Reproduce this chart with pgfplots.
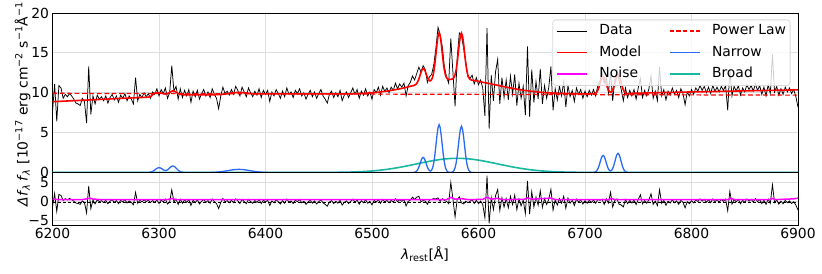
\documentclass[border=0pt]{standalone}
\usepackage{fontspec}
\setmainfont{DejaVu Sans}
\usepackage{pgfplots}
\pgfplotsset{compat=1.18}
\usepackage{pgfplotstable}
\definecolor{narrowc}{RGB}{40,105,245}
\definecolor{broadc}{RGB}{25,185,160}
\definecolor{gridc}{RGB}{222,222,222}
\definecolor{noisec}{RGB}{255,0,255}
\newcommand{\fsz}{\fontsize{13.9bp}{16bp}\selectfont}

\pgfplotstableread{
x f m
6200 7.6 8.88
6202 11.1 8.89
6204 6.4 8.91
6206 10.9 8.92
6208 10.6 8.93
6210 9.3 8.94
6212 9.8 8.96
6214 9.5 8.97
6216 9.9 8.98
6218 9.6 9.00
6220 9.2 9.01
6222 8.7 9.02
6224 8.6 9.03
6226 8.4 9.05
6228 9.3 9.06
6230 8.9 9.07
6232 6.2 9.08
6234 13.3 9.10
6236 7.3 9.11
6238 9.6 9.12
6240 8.6 9.13
6242 9.7 9.15
6244 9.2 9.16
6246 9.5 9.17
6248 9.0 9.19
6250 9.6 9.20
6252 8.7 9.21
6254 9.4 9.22
6256 9.8 9.24
6258 9.1 9.25
6260 9.6 9.26
6262 8.8 9.27
6264 9.7 9.29
6266 9.3 9.30
6268 9.9 9.31
6270 9.0 9.32
6272 9.6 9.34
6274 9.2 9.35
6276 8.6 9.36
6278 11.9 9.38
6280 9.0 9.39
6282 9.8 9.40
6284 9.4 9.41
6286 10.0 9.43
6288 9.5 9.44
6290 9.9 9.45
6292 9.3 9.50
6294 10.1 9.75
6296 9.8 9.95
6298 10.5 10.00
6300 9.6 10.02
6302 10.4 9.96
6304 9.9 9.88
6306 10.6 9.84
6308 9.3 9.88
6310 10.0 10.04
6312 13.4 10.20
6314 10.2 10.22
6316 10.8 10.08
6318 9.2 9.90
6320 10.5 9.80
6322 9.4 9.76
6324 10.3 9.75
6326 9.6 9.75
6328 10.4 9.75
6330 8.8 9.75
6332 10.2 9.75
6334 9.5 9.75
6336 10.3 9.75
6338 9.2 9.75
6340 9.9 9.75
6342 10.4 9.75
6344 9.6 9.75
6346 10.1 9.75
6348 9.4 9.75
6350 10.5 9.75
6352 9.8 9.75
6354 9.3 9.76
6356 8.0 9.77
6358 9.6 9.78
6360 10.7 9.80
6362 9.9 9.84
6364 10.2 9.88
6366 9.7 9.94
6368 10.4 9.98
6370 9.8 10.00
6372 10.8 10.02
6374 10.3 10.04
6376 9.6 10.03
6378 10.7 10.02
6380 10.1 10.00
6382 9.5 9.97
6384 10.6 9.93
6386 10.0 9.90
6388 9.5 9.88
6390 10.2 9.86
6392 9.7 9.85
6394 10.5 9.85
6396 9.4 9.85
6398 10.3 9.85
6400 9.8 9.85
6402 10.3 9.85
6404 8.9 9.85
6406 10.1 9.85
6408 9.6 9.85
6410 10.4 9.85
6412 9.9 9.85
6414 9.3 9.85
6416 10.2 9.85
6418 9.5 9.85
6420 10.6 9.85
6422 9.8 9.85
6424 10.1 9.85
6426 9.4 9.85
6428 10.3 9.85
6430 9.9 9.85
6432 10.5 9.85
6434 9.6 9.85
6436 10.0 9.85
6438 9.2 9.85
6440 9.8 9.85
6442 10.3 9.85
6444 9.5 9.85
6446 10.1 9.85
6448 9.3 9.85
6450 9.9 9.85
6452 10.4 9.85
6454 9.6 9.85
6456 9.2 9.85
6458 8.7 9.85
6460 9.8 9.85
6462 10.2 9.85
6464 9.4 9.85
6466 10.0 9.85
6468 9.5 9.85
6470 10.3 9.85
6472 9.0 9.85
6474 9.7 9.85
6476 10.1 9.85
6478 9.4 9.85
6480 10.0 9.86
6482 10.6 9.87
6484 9.8 9.88
6486 10.4 9.89
6488 9.3 9.90
6490 10.2 9.91
6492 9.7 9.93
6494 10.5 9.95
6496 9.6 9.96
6498 10.1 9.98
6500 9.2 9.99
6502 10.4 10.02
6504 10.0 10.05
6506 10.7 10.08
6508 9.7 10.11
6510 10.8 10.14
6512 10.2 10.18
6514 10.6 10.21
6516 10.0 10.25
6518 10.7 10.29
6520 10.3 10.34
6522 11.2 10.39
6524 10.5 10.44
6526 11.1 10.49
6528 10.7 10.55
6530 11.2 10.61
6532 9.6 10.68
6534 10.9 10.74
6536 11.3 10.81
6538 12.1 10.87
6540 11.6 10.95
6542 12.4 11.17
6544 13.2 11.72
6546 12.6 12.56
6548 13.4 13.05
6550 12.9 12.67
6552 11.3 11.94
6554 12.0 11.50
6556 12.3 11.65
6558 13.5 12.63
6560 15.6 14.83
6562 18.2 17.12
6564 17.3 17.16
6566 15.8 14.94
6568 13.2 12.81
6570 12.0 11.88
6572 11.2 11.67
6574 16.8 11.68
6576 12.5 11.77
6578 8.3 12.27
6580 14.4 13.77
6582 17.5 16.18
6584 17.2 17.47
6586 15.6 16.16
6588 13.9 13.73
6590 12.0 12.21
6592 11.8 11.69
6594 12.2 11.57
6596 11.1 11.53
6598 11.9 11.49
6600 11.0 11.45
6602 11.6 11.38
6604 10.6 11.31
6606 7.1 11.26
6608 18.1 11.21
6610 5.5 11.15
6612 12.2 11.10
6614 9.0 11.05
6616 12.6 10.99
6618 14.2 10.93
6620 8.6 10.87
6622 11.9 10.82
6624 9.4 10.76
6626 11.6 10.70
6628 9.1 10.65
6630 12.1 10.60
6632 9.8 10.55
6634 12.3 10.50
6636 8.4 10.45
6638 11.2 10.40
6640 9.3 10.36
6642 10.8 10.32
6644 7.2 10.28
6646 15.8 10.25
6648 7.0 10.21
6650 12.9 10.18
6652 8.8 10.15
6654 11.4 10.12
6656 9.2 10.09
6658 13.0 10.06
6660 8.6 10.04
6662 10.9 10.02
6664 9.3 10.00
6666 10.7 9.98
6668 13.3 9.97
6670 7.8 9.96
6672 10.5 9.95
6674 9.1 9.93
6676 10.8 9.92
6678 9.6 9.92
6680 11.4 9.91
6682 8.2 9.90
6684 10.9 9.89
6686 9.5 9.88
6688 10.3 9.88
6690 8.9 9.87
6692 10.6 9.87
6694 9.8 9.87
6696 10.4 9.87
6698 9.3 9.86
6700 10.2 9.86
6702 9.5 9.87
6704 10.3 9.87
6706 9.7 9.88
6708 10.4 9.89
6710 9.6 9.97
6712 10.9 10.31
6714 11.5 11.08
6716 12.6 11.89
6718 11.2 11.89
6720 11.9 11.08
6722 10.0 10.31
6724 12.6 10.07
6726 9.0 10.37
6728 11.6 11.22
6730 12.9 12.12
6732 11.5 12.12
6734 10.4 11.22
6736 9.0 10.36
6738 10.6 9.98
6740 9.4 9.89
6742 10.3 9.89
6744 9.6 9.92
6746 10.4 9.93
6748 9.2 9.93
6750 10.6 9.94
6752 11.8 9.94
6754 9.4 9.95
6756 10.3 9.95
6758 9.6 9.96
6760 10.5 9.96
6762 12.1 9.97
6764 9.3 9.97
6766 10.2 9.98
6768 9.0 9.99
6770 13.2 9.99
6772 9.6 10.00
6774 10.4 10.00
6776 9.1 10.01
6778 10.2 10.01
6780 9.7 10.02
6782 10.6 10.02
6784 9.8 10.03
6786 10.3 10.04
6788 9.4 10.04
6790 10.5 10.05
6792 9.9 10.05
6794 8.5 10.06
6796 10.1 10.06
6798 9.6 10.07
6800 10.4 10.07
6802 9.8 10.08
6804 10.6 10.08
6806 10.2 10.09
6808 10.9 10.10
6810 10.3 10.10
6812 10.8 10.11
6814 10.0 10.11
6816 10.7 10.12
6818 9.9 10.12
6820 10.9 10.13
6822 10.2 10.13
6824 10.7 10.14
6826 10.1 10.15
6828 10.8 10.15
6830 10.3 10.16
6832 10.9 10.16
6834 7.8 10.17
6836 12.9 10.17
6838 9.6 10.18
6840 10.8 10.18
6842 10.2 10.19
6844 10.9 10.20
6846 9.7 10.20
6848 10.6 10.21
6850 10.1 10.21
6852 11.0 10.22
6854 10.4 10.22
6856 10.9 10.23
6858 10.2 10.23
6860 11.1 10.24
6862 10.3 10.25
6864 10.9 10.25
6866 9.8 10.26
6868 10.7 10.26
6870 9.6 10.27
6872 11.0 10.27
6874 9.9 10.28
6876 14.8 10.28
6878 10.1 10.29
6880 10.8 10.29
6882 9.7 10.30
6884 10.5 10.31
6886 9.8 10.31
6888 10.7 10.32
6890 10.1 10.32
6892 10.6 10.33
6894 9.9 10.33
6896 10.4 10.34
6898 9.5 10.34
6900 8.2 10.35
}\datatab

\pgfplotstableread{
x m
6200 8.88
6290 9.45
6292 9.50
6294 9.75
6296 9.95
6298 10.00
6300 10.02
6302 9.96
6304 9.88
6306 9.84
6308 9.88
6310 10.04
6312 10.20
6313 10.24
6314 10.22
6316 10.08
6318 9.90
6320 9.80
6322 9.76
6324 9.75
6352 9.75
6356 9.77
6360 9.80
6364 9.88
6368 9.98
6372 10.02
6375 10.04
6378 10.02
6382 9.97
6386 9.90
6390 9.86
6394 9.85
6478 9.85
6484 9.88
6490 9.91
6496 9.96
6500 9.99
6505 10.06
6510 10.14
6515 10.23
6520 10.34
6525 10.46
6530 10.61
6533 10.71
6536 10.81
6537 10.84
6538 10.87
6539 10.90
6540 10.95
6541 11.03
6542 11.17
6543 11.40
6544 11.72
6545 12.14
6546 12.56
6547 12.90
6548 13.05
6549 12.96
6550 12.67
6551 12.30
6552 11.94
6553 11.67
6554 11.50
6555 11.51
6556 11.65
6557 11.99
6558 12.63
6559 13.59
6560 14.83
6561 16.12
6562 17.12
6563 17.51
6564 17.16
6565 16.20
6566 14.94
6567 13.74
6568 12.81
6569 12.22
6570 11.88
6571 11.73
6572 11.67
6573 11.66
6574 11.68
6575 11.70
6576 11.77
6577 11.94
6578 12.27
6579 12.86
6580 13.77
6581 14.95
6582 16.18
6583 17.12
6584 17.47
6585 17.11
6586 16.16
6587 14.92
6588 13.73
6589 12.81
6590 12.21
6591 11.87
6592 11.69
6593 11.61
6594 11.57
6595 11.55
6596 11.53
6598 11.49
6600 11.45
6604 11.31
6608 11.21
6612 11.10
6616 10.99
6620 10.87
6624 10.76
6628 10.65
6632 10.55
6636 10.45
6640 10.36
6644 10.28
6648 10.21
6652 10.15
6656 10.09
6660 10.04
6664 10.00
6668 9.97
6672 9.95
6676 9.92
6680 9.91
6684 9.89
6688 9.88
6692 9.87
6700 9.86
6704 9.87
6706 9.88
6708 9.89
6709 9.91
6710 9.97
6711 10.09
6712 10.31
6713 10.65
6714 11.08
6715 11.54
6716 11.89
6717 12.02
6718 11.89
6719 11.54
6720 11.08
6721 10.65
6722 10.31
6723 10.13
6724 10.07
6725 10.15
6726 10.37
6727 10.73
6728 11.22
6729 11.73
6730 12.12
6731 12.27
6732 12.12
6733 11.73
6734 11.22
6735 10.73
6736 10.36
6737 10.11
6738 9.98
6739 9.91
6740 9.89
6742 9.89
6744 9.92
6760 9.98
6780 10.04
6800 10.10
6820 10.15
6840 10.21
6860 10.26
6880 10.31
6900 10.36
}\mtab

\pgfplotstableread{
x n
6200 0
6288 0
6290 0.01
6292 0.044
6294 0.138
6295 0.216
6296 0.312
6297 0.416
6298 0.509
6299 0.576
6300 0.60
6301 0.58
6302 0.515
6303 0.43
6304 0.34
6305 0.276
6306 0.249
6307 0.27
6308 0.34
6309 0.45
6310 0.58
6311 0.696
6312 0.787
6313 0.82
6314 0.787
6315 0.696
6316 0.568
6317 0.426
6318 0.295
6319 0.189
6320 0.111
6322 0.030
6324 0.006
6326 0
6340 0
6345 0.004
6350 0.018
6355 0.054
6360 0.130
6365 0.243
6370 0.353
6375 0.40
6380 0.353
6385 0.243
6390 0.130
6395 0.054
6400 0.018
6405 0.004
6410 0
6538 0
6540 0.03
6541 0.08
6542 0.19
6543 0.39
6544 0.68
6545 1.07
6546 1.47
6547 1.78
6548 1.90
6549 1.78
6550 1.47
6551 1.07
6552 0.68
6553 0.39
6554 0.22
6555 0.18
6556 0.29
6557 0.61
6558 1.22
6559 2.16
6560 3.38
6561 4.65
6562 5.63
6563 6.00
6564 5.63
6565 4.65
6566 3.38
6567 2.16
6568 1.22
6569 0.61
6570 0.26
6571 0.10
6572 0.03
6573 0.01
6574 0.02
6575 0.03
6576 0.10
6577 0.26
6578 0.59
6579 1.18
6580 2.09
6581 3.27
6582 4.50
6583 5.44
6584 5.80
6585 5.44
6586 4.50
6587 3.27
6588 2.09
6589 1.18
6590 0.59
6591 0.26
6592 0.10
6593 0.03
6594 0.01
6596 0
6706 0
6708 0.012
6709 0.037
6710 0.095
6711 0.217
6712 0.436
6713 0.774
6714 1.21
6715 1.67
6716 2.02
6717 2.15
6718 2.02
6719 1.67
6720 1.21
6721 0.774
6722 0.436
6723 0.258
6724 0.20
6725 0.28
6726 0.50
6727 0.864
6728 1.35
6729 1.86
6730 2.25
6731 2.40
6732 2.25
6733 1.86
6734 1.35
6735 0.864
6736 0.487
6737 0.242
6738 0.106
6739 0.041
6740 0.014
6741 0
6900 0
}\ntab

\pgfplotstableread{
x b
6200 0
6440 0.002
6450 0.005
6460 0.012
6470 0.027
6480 0.056
6485 0.078
6490 0.108
6495 0.146
6500 0.194
6505 0.254
6510 0.326
6515 0.412
6520 0.511
6525 0.625
6530 0.749
6535 0.883
6540 1.023
6545 1.165
6550 1.303
6555 1.434
6560 1.550
6565 1.647
6570 1.719
6575 1.765
6580 1.780
6585 1.765
6590 1.719
6595 1.647
6600 1.550
6605 1.434
6610 1.303
6615 1.165
6620 1.023
6625 0.883
6630 0.749
6635 0.625
6640 0.511
6645 0.412
6650 0.326
6655 0.254
6660 0.194
6665 0.146
6670 0.108
6675 0.078
6680 0.056
6690 0.027
6700 0.012
6710 0.005
6720 0.002
6900 0
}\btab

\pgfplotstableread{
x s
6200 0.65
6210 0.60
6228 0.60
6232 0.80
6235 1.00
6238 0.75
6245 0.60
6308 0.60
6312 0.90
6316 0.60
6570 0.60
6574 1.20
6578 0.70
6584 0.85
6590 0.60
6604 0.65
6608 1.25
6612 0.70
6618 0.95
6622 0.60
6643 0.65
6646 1.10
6650 0.70
6668 1.00
6672 0.60
6722 0.60
6725 0.90
6728 0.60
6834 0.60
6837 0.95
6840 0.60
6873 0.60
6876 0.90
6879 0.60
6896 0.80
6900 1.00
}\stab

\pgfplotsset{
  layers/mylayers/.define layer set={axis background,axis grid,axis ticks,axis tick labels,main,axis lines,axis descriptions,axis foreground}{},
}

\begin{document}
\begin{tikzpicture}
\pgfplotsset{
  every axis/.append style={
    set layers=mylayers,
    scale only axis,
    xmin=6200, xmax=6900,
    axis line style={line width=0.9bp, black},
    grid=major,
    grid style={gridc, line width=0.9bp},
    major tick length=0pt,
    tick label style={font=\fsz},
    xtick={6200,6300,6400,6500,6600,6700,6800,6900},
  },
}
\begin{axis}[
  at={(52.5bp,101.5bp)}, anchor=south west,
  width=745.5bp, height=159.5bp,
  ymin=0, ymax=20,
  ytick={0,5,10,15,20}, yticklabels={0,5,10,15,20},
  xticklabels={},
  legend columns=2,
  legend cell align=left,
  legend image code/.code={\draw[#1] (0bp,0bp) -- (30bp,0bp);},
  legend style={
    at={(1,1)}, anchor=north east, xshift=-7.5bp, yshift=-6.5bp,
    draw=black!15, line width=0.8bp, rounded corners=3bp,
    fill=white, fill opacity=0.8, text opacity=1, draw opacity=1,
    font=\fsz, inner xsep=4bp, inner ysep=4.5bp, row sep=8bp,
    nodes={inner sep=0bp, text height=10.5bp, text depth=3bp},
    /tikz/every odd column/.append style={column sep=11.5bp},
    /tikz/every even column/.append style={column sep=28bp},
  },
]
\addplot[black, line width=0.75bp, forget plot] table[x=x,y=f]{\datatab};
\addplot[broadc, line width=1.6bp, forget plot] table[x=x,y=b]{\btab};
\addplot[narrowc, line width=1.3bp, forget plot] table[x=x,y=n]{\ntab};
\addplot[red, dash pattern=on 4.7bp off 2.7bp, line width=1.2bp, forget plot] coordinates {(6200,9.93) (6550,9.815) (6900,9.70)};
\addplot[red, line width=1.6bp, forget plot] table[x=x,y=m]{\mtab};
\addlegendimage{black, line width=0.9bp}\addlegendentry{Data}
\addlegendimage{red, dash pattern=on 4.2bp off 2.4bp, line width=1.3bp}\addlegendentry{Power Law}
\addlegendimage{red, line width=1.3bp}\addlegendentry{Model}
\addlegendimage{narrowc, line width=1.3bp}\addlegendentry{Narrow}
\addlegendimage{noisec, line width=1.3bp}\addlegendentry{Noise}
\addlegendimage{broadc, line width=1.3bp}\addlegendentry{Broad}
\end{axis}
\begin{axis}[
  at={(52.5bp,49bp)}, anchor=south west,
  width=745.5bp, height=52.5bp,
  ymin=-6.1, ymax=7.75,
  ytick={-5,0,5}, yticklabels={−5,0,5},
  xticklabels={6200,6300,6400,6500,6600,6700,6800,6900},
]
\addplot[black, line width=0.6bp, dash pattern=on 3bp off 2bp] coordinates {(6200,0) (6900,0)};
\addplot[black, line width=0.75bp] table[x=x, y expr=\thisrow{f}-\thisrow{m}]{\datatab};
\addplot[noisec, line width=1.5bp] table[x=x,y=s]{\stab};
\end{axis}
\node[rotate=90, anchor=base, font=\fsz] at (27.5bp,185bp) {\textit{f}\textsubscript{\textit{λ}} [10\textsuperscript{−17} erg cm\textsuperscript{−2} s\textsuperscript{−1}Å\textsuperscript{−1}]};
\node[rotate=90, anchor=base, font=\fsz] at (27.5bp,79bp) {\textit{Δf}\textsubscript{\textit{λ}}};
\node[anchor=base, font=\fsz] at (425bp,15bp) {\textit{λ}\textsubscript{rest}[Å]};
\pgfresetboundingbox
\useasboundingbox (0,0) rectangle (822bp,274bp);
\end{tikzpicture}
\end{document}
